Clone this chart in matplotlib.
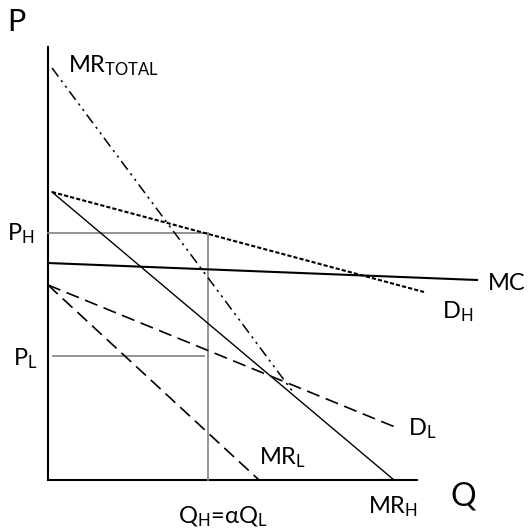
import matplotlib
matplotlib.use('Agg')
import matplotlib.pyplot as plt

plt.rcParams['font.family'] = ['Lato', 'DejaVu Sans']
plt.rcParams['mathtext.fontset'] = 'custom'
plt.rcParams['mathtext.rm'] = 'Lato'
plt.rcParams['mathtext.it'] = 'Lato'

# curves as (Q, P) end points
mr_total_q = [4, 245]
mr_total_p = [412, 88]
d_h_q = [4, 376]
d_h_p = [288, 188]
mr_h_q = [4, 346]
mr_h_p = [288, 0]
mc_q = [0, 429]
mc_p = [217, 200]
d_l_q = [0, 347]
d_l_p = [195, 53]
mr_l_q = [0, 211]
mr_l_p = [195, 0]

q_h = 160      # chosen quantity
p_h = 247      # high price
p_l = 124      # low price
p_l_start = 5  # P_L guide starts a bit off the axis
p_l_end = 156

q_max = 369
p_max = 433

fig = plt.figure(figsize=(5.29, 5.29), dpi=100)
ax = fig.add_axes([0, 0, 1, 1])
ax.set_xlim(-48, 481)
ax.set_ylim(-49, 480)
ax.axis('off')

# axes
ax.plot([0, 0], [0, p_max], color='black', lw=1.5)
ax.plot([0, q_max], [0, 0], color='black', lw=1.5)

# guide lines
ax.plot([0, q_h], [p_h, p_h], color='#8a8a8a', lw=1.3)
ax.plot([q_h, q_h], [0, p_h], color='#8a8a8a', lw=1.3)
ax.plot([p_l_start, p_l_end], [p_l, p_l], color='#8a8a8a', lw=1.3)

# curves
ax.plot(mr_total_q, mr_total_p, color='black', lw=1.1, linestyle=(0, (7, 3, 1.5, 3, 1.5, 3)))
ax.plot(d_h_q, d_h_p, color='black', lw=1.5, linestyle=(0, (2, 1)))
ax.plot(mr_h_q, mr_h_p, color='black', lw=1.0)
ax.plot(mc_q, mc_p, color='black', lw=1.5)
ax.plot(d_l_q, d_l_p, color='black', lw=1.2, linestyle=(0, (8, 4)))
ax.plot(mr_l_q, mr_l_p, color='black', lw=1.2, linestyle=(0, (8, 4)))

fs = 17
ax.text(-41, 449, 'P', fontsize=22, va='baseline')
ax.text(20, 408, r'MR$_{\mathrm{TOTAL}}$', fontsize=fs, va='baseline')
ax.text(-41, 240, r'P$_{\mathrm{H}}$', fontsize=fs, va='baseline')
ax.text(-35, 115, r'P$_{\mathrm{L}}$', fontsize=fs, va='baseline')
ax.text(440, 190, 'MC', fontsize=fs, va='baseline')
ax.text(394, 162, r'D$_{\mathrm{H}}$', fontsize=fs, va='baseline')
ax.text(360, 45, r'D$_{\mathrm{L}}$', fontsize=fs, va='baseline')
ax.text(211, 16, r'MR$_{\mathrm{L}}$', fontsize=fs, va='baseline')
ax.text(320, -33, r'MR$_{\mathrm{H}}$', fontsize=fs, va='baseline')
ax.text(402, -26, 'Q', fontsize=23, va='baseline')
ax.text(130, -43, r'Q$_{\mathrm{H}}$=αQ$_{\mathrm{L}}$', fontsize=fs, va='baseline')

fig.savefig('out.png', dpi=100)
